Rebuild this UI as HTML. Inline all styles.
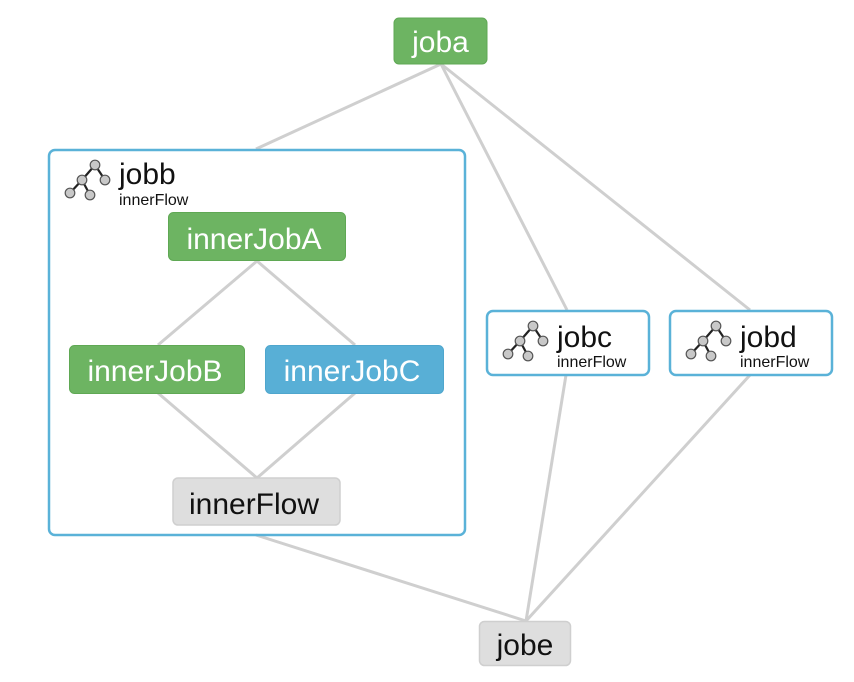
<!DOCTYPE html>
<html><head><meta charset="utf-8"><style>
html,body{margin:0;padding:0;background:#fff;}
svg{display:block;}
text{font-family:"Liberation Sans",sans-serif;}
</style></head><body>
<svg width="854" height="682" viewBox="0 0 854 682" xmlns="http://www.w3.org/2000/svg">
<defs>
<g id="ic" stroke="#222" stroke-width="2.2" fill="#c8c8c8">
<line x1="0" y1="0" x2="-13" y2="15" fill="none"/>
<line x1="0" y1="0" x2="10" y2="15" fill="none"/>
<line x1="-13" y1="15" x2="-25" y2="28" fill="none"/>
<line x1="-13" y1="15" x2="-5" y2="30" fill="none"/>
<g stroke="#555" stroke-width="1.2">
<circle cx="0" cy="0" r="4.8"/><circle cx="-13" cy="15" r="4.8"/><circle cx="10" cy="15" r="4.8"/><circle cx="-25" cy="28" r="4.8"/><circle cx="-5" cy="30" r="4.8"/>
</g></g>
</defs>
<g stroke="#cfcfcf" stroke-width="3" fill="none">
<line x1="441" y1="64" x2="256" y2="149"/>
<line x1="441" y1="64" x2="567" y2="310"/>
<line x1="441" y1="64" x2="750" y2="310"/>
<line x1="256" y1="535" x2="526" y2="621"/>
<line x1="566" y1="375" x2="526" y2="621"/>
<line x1="750" y1="375" x2="526" y2="621"/>
<line x1="257" y1="261" x2="158" y2="345"/>
<line x1="257" y1="261" x2="355" y2="345"/>
<line x1="158" y1="393" x2="257" y2="478"/>
<line x1="355" y1="393" x2="257" y2="478"/>
</g>
<rect x="49" y="150" width="416" height="385" rx="6" fill="none" stroke="#5ab2d8" stroke-width="2.5"/>
<rect x="487" y="311" width="162" height="64" rx="6" fill="#fff" stroke="#5ab2d8" stroke-width="2.5"/>
<rect x="670" y="311" width="162" height="64" rx="6" fill="#fff" stroke="#5ab2d8" stroke-width="2.5"/>
<use href="#ic" x="95" y="165"/>
<use href="#ic" x="533" y="326"/>
<use href="#ic" x="716" y="326"/>
<text x="119" y="184" font-size="30" fill="#111">jobb</text>
<text x="119" y="205" font-size="16" fill="#111">innerFlow</text>
<text x="557" y="347" font-size="30" fill="#111">jobc</text>
<text x="557" y="367" font-size="16" fill="#111">innerFlow</text>
<text x="740" y="347" font-size="30" fill="#111">jobd</text>
<text x="740" y="367" font-size="16" fill="#111">innerFlow</text>
<rect x="394" y="18" width="93" height="46" rx="5" fill="#6db462" stroke="#5fa854"/>
<text x="440.5" y="52" font-size="30" fill="#fff" text-anchor="middle">joba</text>
<rect x="168.5" y="212.5" width="177" height="48" rx="5" fill="#6db462" stroke="#5fa854"/>
<text x="254" y="249" font-size="30" fill="#fff" text-anchor="middle">innerJobA</text>
<rect x="69.5" y="345.5" width="175" height="48" rx="5" fill="#6db462" stroke="#5fa854"/>
<text x="155" y="381" font-size="30" fill="#fff" text-anchor="middle">innerJobB</text>
<rect x="265.5" y="345.5" width="178" height="48" rx="5" fill="#58afd6" stroke="#4fa6cd"/>
<text x="352" y="381" font-size="30" fill="#fff" text-anchor="middle">innerJobC</text>
<rect x="173" y="478" width="167" height="47" rx="5" fill="#dedede" stroke="#cfcfcf" stroke-width="1.5"/>
<text x="254" y="514" font-size="30" fill="#111" text-anchor="middle">innerFlow</text>
<rect x="479.5" y="621.5" width="91" height="44" rx="5" fill="#dedede" stroke="#cfcfcf" stroke-width="1.5"/>
<text x="525" y="655" font-size="30" fill="#111" text-anchor="middle">jobe</text>
</svg>
</body></html>
